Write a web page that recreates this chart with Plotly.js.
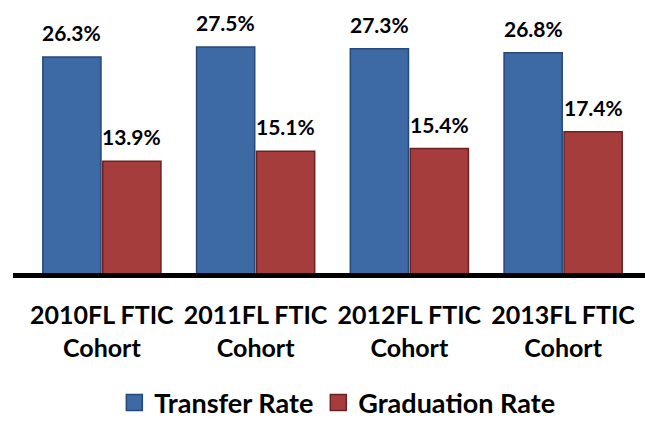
<!DOCTYPE html>
<html>
<head>
<meta charset="utf-8">
<script src="https://cdn.plot.ly/plotly-3.0.1.min.js"></script>
<style>html,body{margin:0;padding:0;background:#fff;}#chart{width:645px;height:421px;}</style>
</head>
<body>
<div id="chart"></div>
<script>
const categories = ["2010FL FTIC Cohort", "2011FL FTIC Cohort", "2012FL FTIC Cohort", "2013FL FTIC Cohort"];
const tickLabels = ["2010FL FTIC<br>Cohort", "2011FL FTIC<br>Cohort", "2012FL FTIC<br>Cohort", "2013FL FTIC<br>Cohort"];
const transferRate = [26.3, 27.5, 27.3, 26.8];
const graduationRate = [13.9, 15.1, 15.4, 17.4];
const seriesNames = ["Transfer Rate", "Graduation Rate"];

const FONT = "Lato, 'Open Sans', sans-serif";
const BLUE = "#3d69a5", BLUE_EDGE = "#27487a";
const RED = "#a43d3b", RED_EDGE = "#6b2120";

const traces = [
  {type: "bar", x: categories, y: transferRate, name: seriesNames[0], showlegend: false,
   marker: {color: BLUE, line: {color: BLUE_EDGE, width: 1.5}}, hoverinfo: "skip"},
  {type: "bar", x: categories, y: graduationRate, name: seriesNames[1], showlegend: false,
   marker: {color: RED, line: {color: RED_EDGE, width: 1.5}}, hoverinfo: "skip"},
  {type: "scatter", mode: "markers", x: [null], y: [null], name: seriesNames[0], legendgroup: "a",
   marker: {symbol: "square", size: 16, color: BLUE, line: {color: BLUE_EDGE, width: 1.5}}},
  {type: "scatter", mode: "markers", x: [null], y: [null], name: seriesNames[1], legendgroup: "b",
   marker: {symbol: "square", size: 16, color: RED, line: {color: RED_EDGE, width: 1.5}}}
];

const annotations = [];
[transferRate, graduationRate].forEach((vals, si) => {
  vals.forEach((v, i) => {
    annotations.push({
      x: categories[i], y: v, xref: "x", yref: "y",
      text: v.toFixed(1) + "%", showarrow: false,
      xshift: si === 0 ? -30 : 30, yanchor: "bottom", yshift: 10,
      font: {family: FONT, size: 21, color: "#000", weight: 700}
    });
  });
});

const layout = {
  width: 645, height: 421,
  margin: {l: 25, r: 5, t: 10, b: 143},
  paper_bgcolor: "#fff", plot_bgcolor: "#fff",
  barmode: "group", bargap: 0.22, bargroupgap: 0.03,
  showlegend: true,
  legend: {orientation: "h", xref: "container", yref: "container", x: 0.523, xanchor: "center",
           y: 0.043, yanchor: "middle", tracegroupgap: 17,
           font: {family: FONT, size: 27, color: "#000", weight: 700},
           itemclick: false, itemdoubleclick: false},
  xaxis: {type: "category", tickvals: categories, ticktext: tickLabels, showgrid: false,
          zeroline: false, showline: false, ticks: "", ticklabelstandoff: 20,
          tickfont: {family: FONT, size: 25, color: "#000", weight: 700}},
  yaxis: {range: [0, 31.9], visible: false, showgrid: false, zeroline: false},
  shapes: [{type: "line", xref: "paper", yref: "y", x0: -0.0195, x1: 1.01, y0: 0, y1: 0,
            line: {color: "#000", width: 10}}],
  annotations: annotations
};

Plotly.newPlot("chart", traces, layout, {displayModeBar: false, staticPlot: true});
</script>
</body>
</html>
